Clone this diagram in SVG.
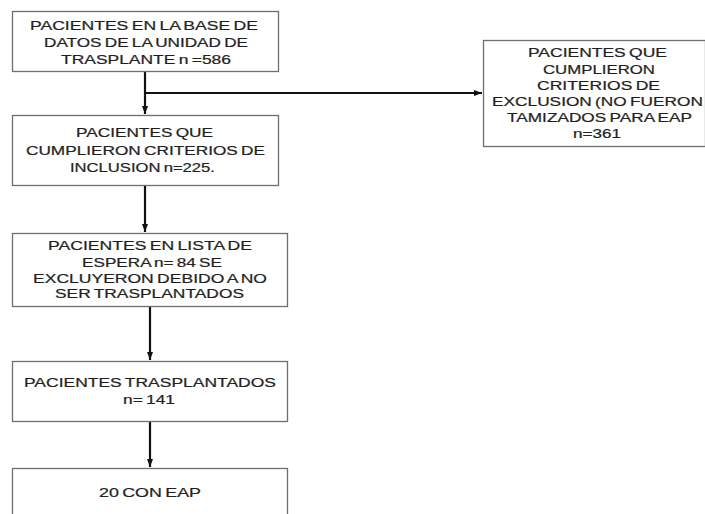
<svg xmlns="http://www.w3.org/2000/svg" width="705" height="514" viewBox="0 0 705 514">
<style>
.box{fill:#fff;stroke:#6e6e6e;stroke-width:1.3}
.t{font-family:"Liberation Sans",Arial,sans-serif;font-size:17px;fill:#1e1e1e;stroke:#2a2a2a;stroke-width:0.3;word-spacing:-1.5px}
.c{stroke:#111;stroke-width:2.2;fill:none}
</style>
<defs>
<marker id="ah" markerUnits="userSpaceOnUse" markerWidth="8" markerHeight="8" viewBox="0 0 8 8" refX="8" refY="4" orient="auto">
<path d="M0,1 L8,4 L0,7 Z" fill="#111"/>
</marker>
</defs>
<rect width="705" height="514" fill="#fff"/>
<g id="connectors">
<path class="c" d="M145,71 V114" marker-end="url(#ah)"/>
<path class="c" d="M145,93 H482" marker-end="url(#ah)"/>
<path class="c" d="M145,185 V232" marker-end="url(#ah)"/>
<path class="c" d="M150,307 V360" marker-end="url(#ah)"/>
<path class="c" d="M150,421 V467" marker-end="url(#ah)"/>
</g>
<g id="n1">
<rect class="box" x="12.5" y="11.5" width="266" height="60"/>
<text class="t" transform="matrix(1,0,0,0.706,0,29.5)" x="30" y="0" textLength="228" lengthAdjust="spacingAndGlyphs">PACIENTES EN LA BASE DE</text>
<text class="t" transform="matrix(1,0,0,0.706,0,46.5)" x="44" y="0" textLength="204" lengthAdjust="spacingAndGlyphs">DATOS DE LA UNIDAD DE</text>
<text class="t" transform="matrix(1,0,0,0.706,0,64)" x="61" y="0" textLength="170" lengthAdjust="spacingAndGlyphs">TRASPLANTE n =586</text>
</g>
<g id="n2">
<rect class="box" x="12.5" y="115.5" width="266" height="70"/>
<text class="t" transform="matrix(1,0,0,0.706,0,137)" x="76" y="0" textLength="137" lengthAdjust="spacingAndGlyphs">PACIENTES QUE</text>
<text class="t" transform="matrix(1,0,0,0.706,0,155)" x="26" y="0" textLength="239" lengthAdjust="spacingAndGlyphs">CUMPLIERON CRITERIOS DE</text>
<text class="t" transform="matrix(1,0,0,0.706,0,172)" x="70" y="0" textLength="145" lengthAdjust="spacingAndGlyphs">INCLUSION n=225.</text>
</g>
<g id="n_excl">
<rect class="box" x="483.5" y="40.5" width="222" height="106"/>
<text class="t" transform="matrix(1,0,0,0.706,0,57)" x="528" y="0" textLength="139" lengthAdjust="spacingAndGlyphs">PACIENTES QUE</text>
<text class="t" transform="matrix(1,0,0,0.706,0,73.5)" x="543" y="0" textLength="112" lengthAdjust="spacingAndGlyphs">CUMPLIERON</text>
<text class="t" transform="matrix(1,0,0,0.706,0,89.5)" x="537" y="0" textLength="123" lengthAdjust="spacingAndGlyphs">CRITERIOS DE</text>
<text class="t" transform="matrix(1,0,0,0.706,0,106)" x="492" y="0" textLength="211" lengthAdjust="spacingAndGlyphs">EXCLUSION (NO FUERON</text>
<text class="t" transform="matrix(1,0,0,0.706,0,122)" x="507" y="0" textLength="185" lengthAdjust="spacingAndGlyphs">TAMIZADOS PARA EAP</text>
<text class="t" transform="matrix(1,0,0,0.706,0,138)" x="573" y="0" textLength="48" lengthAdjust="spacingAndGlyphs">n=361</text>
</g>
<g id="n3">
<rect class="box" x="12.5" y="233.5" width="275" height="73"/>
<text class="t" transform="matrix(1,0,0,0.706,0,250)" x="48" y="0" textLength="204" lengthAdjust="spacingAndGlyphs">PACIENTES EN LISTA DE</text>
<text class="t" transform="matrix(1,0,0,0.706,0,266.7)" x="82" y="0" textLength="140" lengthAdjust="spacingAndGlyphs">ESPERA n= 84 SE</text>
<text class="t" transform="matrix(1,0,0,0.706,0,282.7)" x="33" y="0" textLength="234" lengthAdjust="spacingAndGlyphs">EXCLUYERON DEBIDO A NO</text>
<text class="t" transform="matrix(1,0,0,0.706,0,298.3)" x="55" y="0" textLength="189" lengthAdjust="spacingAndGlyphs">SER TRASPLANTADOS</text>
</g>
<g id="n4">
<rect class="box" x="12.5" y="361.5" width="275" height="60"/>
<text class="t" transform="matrix(1,0,0,0.706,0,387.3)" x="24" y="0" textLength="252" lengthAdjust="spacingAndGlyphs">PACIENTES TRASPLANTADOS</text>
<text class="t" transform="matrix(1,0,0,0.706,0,404)" x="123" y="0" textLength="52" lengthAdjust="spacingAndGlyphs">n= 141</text>
</g>
<g id="n5">
<rect class="box" x="12.5" y="468.5" width="275" height="60"/>
<text class="t" transform="matrix(1,0,0,0.706,0,497.3)" x="99" y="0" textLength="102" lengthAdjust="spacingAndGlyphs">20 CON EAP</text>
</g>
</svg>
